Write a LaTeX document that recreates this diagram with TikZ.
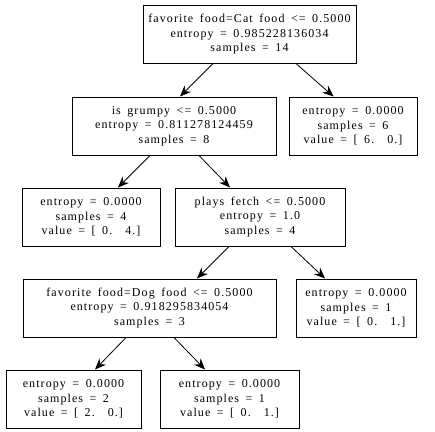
\documentclass[tikz,border=0pt]{standalone}
\usepackage{fontspec}
\setmainfont[LetterSpace=9,WordSpace=1.6]{Liberation Serif}
\usetikzlibrary{arrows.meta}
\begin{document}
\begin{tikzpicture}[x=1pt, y=-1pt,
    every node/.style={font=\fontsize{12}{14.5}\selectfont},
    treenode/.style={draw, line width=1pt, align=center, minimum height=58pt, inner xsep=2pt},
    edge/.style={-{Stealth[length=11pt,width=9pt]}, line width=0.8pt}]
    \useasboundingbox (0,0) rectangle (435,431);
    % tree nodes
    \node[treenode, minimum width=213pt] (root) at (249.5,34.5) {favorite food=Cat food <= 0.5000\\entropy = 0.985228136034\\samples = 14};
    \node[treenode, minimum width=204pt] (grumpy) at (174,126) {is grumpy <= 0.5000\\entropy = 0.811278124459\\samples = 8};
    \node[treenode, minimum width=128pt] (leafA) at (353,126) {entropy = 0.0000\\samples = 6\\value = [ 6.\ \ 0.]};
    \node[treenode, minimum width=138pt] (leafB) at (91,217) {entropy = 0.0000\\samples = 4\\value = [ 0.\ \ 4.]};
    \node[treenode, minimum width=170pt] (fetch) at (260,217) {plays fetch <= 0.5000\\entropy = 1.0\\samples = 4};
    \node[treenode, minimum width=253pt] (dog) at (149.5,308) {favorite food=Dog food <= 0.5000\\entropy = 0.918295834054\\samples = 3};
    \node[treenode, minimum width=120pt] (leafC) at (356,308) {entropy = 0.0000\\samples = 1\\value = [ 0.\ \ 1.]};
    \node[treenode, minimum width=135pt] (leafD) at (73.5,399) {entropy = 0.0000\\samples = 2\\value = [ 2.\ \ 0.]};
    \node[treenode, minimum width=139pt] (leafE) at (229.5,399) {entropy = 0.0000\\samples = 1\\value = [ 0.\ \ 1.]};
    % edges
    \draw[edge] ([xshift=-37pt]root.south) -- ([xshift=6pt]grumpy.north);
    \draw[edge] ([xshift=47pt]root.south) -- ([xshift=-19.5pt]leafA.north);
    \draw[edge] ([xshift=-24pt]grumpy.south) -- ([xshift=27pt]leafB.north);
    \draw[edge] ([xshift=25pt]grumpy.south) -- ([xshift=-30pt]fetch.north);
    \draw[edge] ([xshift=-31pt]fetch.south) -- ([xshift=47.5pt]dog.north);
    \draw[edge] ([xshift=31pt]fetch.south) -- ([xshift=-31pt]leafC.north);
    \draw[edge] ([xshift=-23.5pt]dog.south) -- ([xshift=21.5pt]leafD.north);
    \draw[edge] ([xshift=24.5pt]dog.south) -- ([xshift=-24.5pt]leafE.north);
\end{tikzpicture}
\end{document}
